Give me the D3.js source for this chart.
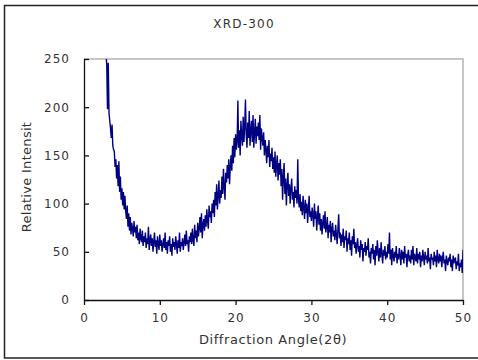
<!DOCTYPE html>
<html>
<head>
<meta charset="utf-8">
<script src="https://cdn.jsdelivr.net/npm/d3@7"></script>
<style>
  html, body { margin: 0; padding: 0; background: #fff; }
  svg { display: block; }
  text { font-family: "DejaVu Sans", "Noto Sans CJK KR", sans-serif; fill: #333; }
</style>
</head>
<body>
<svg id="chart" width="478" height="360"></svg>
<script>
// XRD scan: intensity sampled every 0.1 degree of 2θ, starting at 2.9°
const startAngle = 2.9;
const angleStep = 0.1;
const intensity = [
  256,
  244, 198, 246, 194, 186, 178, 168, 182, 160, 156,
  154, 138, 146, 126, 140, 118, 144, 112, 128, 104,
  116, 98, 112, 94, 108, 92, 84, 98, 76, 90,
  72, 86, 68, 80, 74, 66, 82, 70, 76, 64,
  78, 62, 70, 58, 74, 64, 60, 72, 56, 66,
  60, 70, 54, 64, 58, 76, 52, 62, 68, 56,
  64, 50, 60, 70, 55, 62, 48, 66, 58, 52,
  68, 56, 62, 50, 58, 64, 54, 70, 52, 60,
  48, 62, 56, 66, 50, 58, 46, 64, 55, 60,
  52, 66, 58, 48, 62, 54, 70, 50, 60, 56,
  64, 52, 60, 68, 56, 72, 58, 62, 50, 66,
  60, 70, 58, 74, 62, 56, 78, 64, 72, 60,
  80, 66, 74, 86, 70, 90, 64, 78, 84, 72,
  88, 76, 94, 82, 74, 98, 86, 92, 80, 100,
  90, 104, 86, 112, 98, 120, 94, 108, 124, 100,
  114, 106, 128, 110, 136, 118, 104, 132, 122, 140,
  126, 146, 120, 138, 150, 134, 160, 142, 168, 148,
  172, 156, 164, 207, 158, 176, 150, 186, 170, 160,
  190, 164, 180, 208, 172, 158, 184, 168, 196, 160,
  176, 186, 164, 192, 158, 174, 188, 162, 180, 170,
  184, 166, 192, 156, 178, 168, 160, 174, 150, 166,
  156, 142, 160, 148, 166, 138, 152, 144, 158, 136,
  148, 132, 154, 128, 140, 150, 124, 142, 130, 146,
  118, 136, 104, 128, 142, 110, 126, 98, 120, 132,
  108, 120, 100, 116, 126, 104, 112, 96, 118, 106,
  114, 100, 146, 104, 96, 110, 92, 102, 88, 108,
  96, 84, 104, 90, 100, 80, 94, 108, 86, 92,
  82, 96, 88, 76, 100, 84, 92, 72, 86, 98,
  78, 90, 72, 84, 68, 80, 88, 74, 92, 70,
  76, 86, 64, 78, 70, 82, 60, 74, 80, 66,
  72, 62, 78, 68, 58, 74, 89, 64, 70, 56,
  68, 60, 74, 54, 66, 62, 72, 50, 64, 58,
  70, 52, 62, 46, 66, 58, 74, 54, 60, 48,
  58, 64, 50, 56, 44, 62, 52, 58, 40, 54,
  50, 60, 46, 56, 52, 64, 44, 50, 38, 54,
  48, 58, 42, 52, 36, 56, 46, 62, 50, 40,
  54, 44, 60, 48, 38, 52, 46, 56, 42, 50,
  44, 58, 48, 70, 42, 52, 36, 54, 46, 40,
  50, 44, 56, 38, 48, 42, 54, 46, 36, 52,
  42, 50, 38, 56, 44, 48, 34, 46, 52, 40,
  46, 38, 52, 42, 56, 36, 48, 44, 40, 54,
  38, 48, 42, 50, 34, 46, 40, 52, 44, 36,
  50, 42, 46, 38, 54, 40, 44, 32, 48, 42,
  44, 36, 50, 40, 46, 34, 52, 42, 38, 48,
  40, 46, 34, 44, 50, 38, 42, 30, 46, 40,
  36, 44, 40, 48, 34, 42, 30, 46, 38, 42,
  44, 32, 40, 36, 48, 30, 38, 34, 42, 28,
  52
];
const xTicks = [0, 10, 20, 30, 40, 50];
const yTicks = [0, 50, 100, 150, 200, 250];

const chartTitle = "XRD-300";
const xTitle = "Diffraction Angle(2θ)";
const yTitle = "Relative Intensit";

const svg = d3.select("#chart");
const plot = { left: 84, right: 463, top: 59, bottom: 300 };

const x = d3.scaleLinear().domain([0, 50]).range([plot.left, plot.right]);
const y = d3.scaleLinear().domain([0, 250]).range([plot.bottom, plot.top]);

const points = intensity.map((v, i) => [startAngle + i * angleStep, v]);

// outer frame
svg.append("rect")
  .attr("x", 4.5).attr("y", 5.5).attr("width", 490).attr("height", 352.5)
  .attr("fill", "none").attr("stroke", "#222").attr("stroke-width", 1.5);

// light frame on the top and right of the plot area
svg.append("path")
  .attr("d", `M${plot.left},${plot.top}H${plot.right}V${plot.bottom}`)
  .attr("fill", "none").attr("stroke", "#b4b4b4").attr("stroke-width", 1.5);

svg.append("clipPath").attr("id", "plotClip")
  .append("rect")
  .attr("x", plot.left).attr("y", plot.top)
  .attr("width", plot.right - plot.left).attr("height", plot.bottom - plot.top);

// intensity trace
svg.append("path")
  .datum(points)
  .attr("clip-path", "url(#plotClip)")
  .attr("fill", "none")
  .attr("stroke", "#000080")
  .attr("stroke-width", 1.4)
  .attr("stroke-linejoin", "miter")
  .attr("d", d3.line().x(d => x(d[0])).y(d => y(d[1])));

// x axis
const xAxis = svg.append("g")
  .attr("transform", `translate(0,${plot.bottom})`)
  .call(d3.axisBottom(x).tickValues(xTicks).tickSize(5).tickSizeOuter(0).tickPadding(8));

// y axis
const yAxis = svg.append("g")
  .attr("transform", `translate(${plot.left},0)`)
  .call(d3.axisLeft(y).tickValues(yTicks).tickSize(-5).tickSizeOuter(0).tickPadding(14));

[xAxis, yAxis].forEach(g => {
  g.select(".domain").attr("stroke", "#111").attr("stroke-width", 1.3);
  g.selectAll(".tick line").attr("stroke", "#111").attr("stroke-width", 1.3);
  g.selectAll(".tick text")
    .attr("fill", "#333")
    .style("font-family", '"DejaVu Sans", sans-serif')
    .style("font-size", "12px")
    .style("letter-spacing", "1px");
});

// titles
svg.append("text")
  .attr("x", 244).attr("y", 28)
  .attr("text-anchor", "middle")
  .style("font-size", "12px").style("letter-spacing", "1.2px")
  .text(chartTitle);

svg.append("text")
  .attr("x", 273).attr("y", 344)
  .attr("text-anchor", "middle")
  .style("font-size", "13px").style("letter-spacing", "0.6px")
  .text(xTitle);

svg.append("text")
  .attr("transform", "translate(31,177) rotate(-90)")
  .attr("text-anchor", "middle")
  .style("font-size", "13px").style("letter-spacing", "0.3px")
  .text(yTitle);
</script>
</body>
</html>
